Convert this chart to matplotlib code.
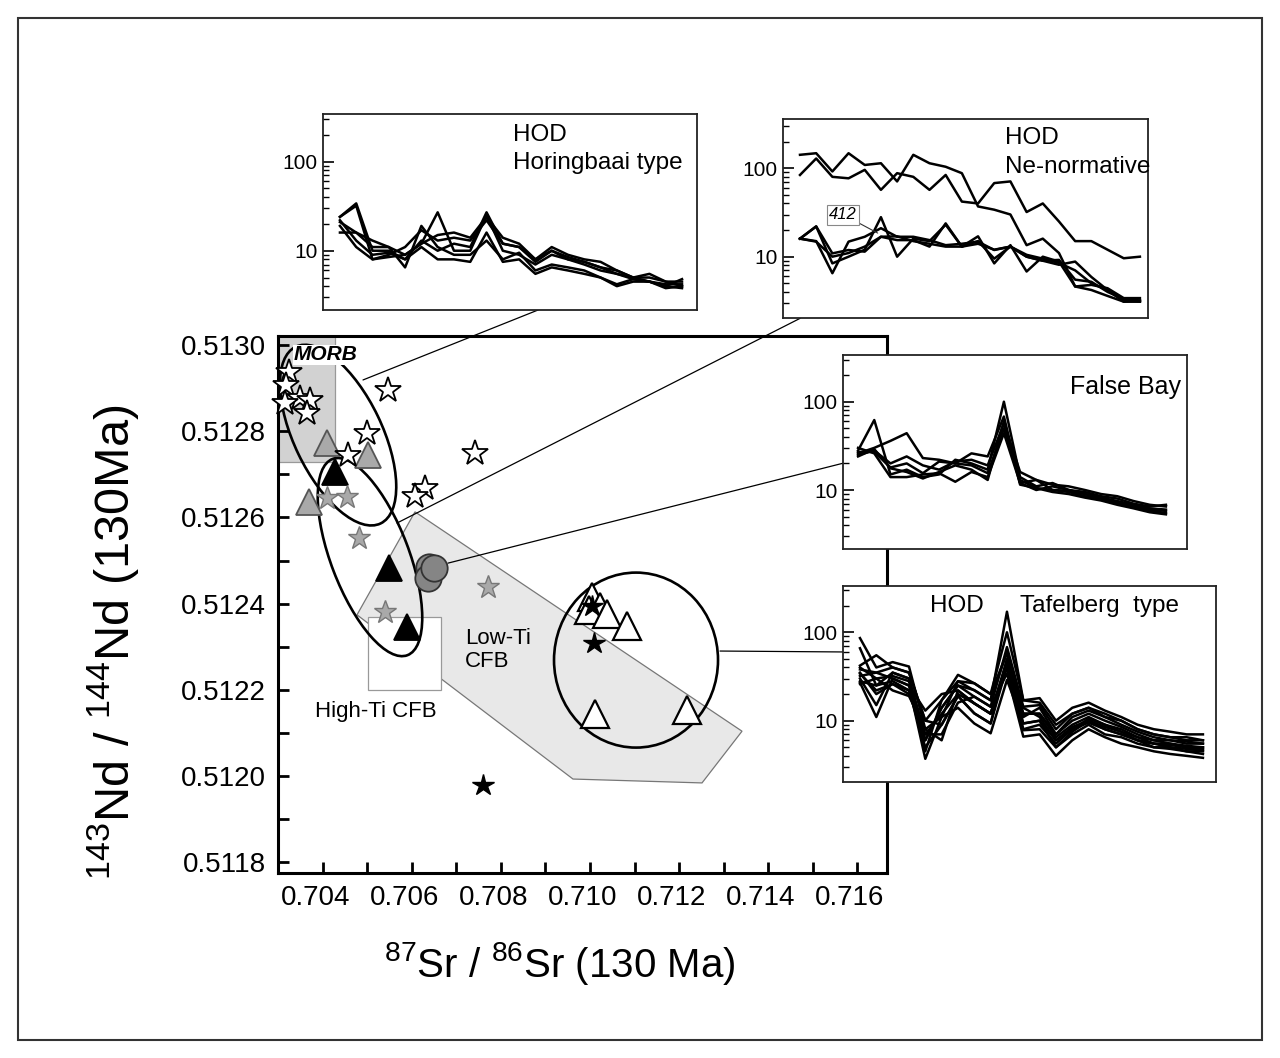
import matplotlib
matplotlib.use("Agg")
import numpy as np
import matplotlib.pyplot as plt
import matplotlib.transforms as mtransforms
from matplotlib.patches import Ellipse, Polygon, Rectangle, ConnectionPatch
from matplotlib.ticker import FixedLocator, FixedFormatter, NullFormatter, LogLocator

plt.rcParams['font.family'] = ['Liberation Sans', 'DejaVu Sans']
plt.rcParams['mathtext.default'] = 'regular'

# ---- Sr-Nd isotope data (130 Ma) ----
open_star_sr = [0.703236, 0.703169, 0.703483, 0.703708, 0.703146, 0.703640,
                0.705461, 0.704989, 0.704562, 0.707416, 0.706292, 0.706067]
open_star_nd = [0.512937, 0.512907, 0.512877, 0.512872, 0.512865, 0.512842,
                0.512896, 0.512796, 0.512745, 0.512749, 0.512668, 0.512650]

grey_star_sr = [0.704090, 0.704539, 0.704809, 0.707708, 0.705393]
grey_star_nd = [0.512645, 0.512647, 0.512552, 0.512439, 0.512381]

black_star_sr = [0.707596, 0.710045, 0.710090]
black_star_nd = [0.511979, 0.512394, 0.512309]

grey_tri_sr = [0.704090, 0.705011, 0.703685]
grey_tri_nd = [0.512773, 0.512745, 0.512636]

black_tri_sr = [0.704270, 0.705483, 0.705888]
black_tri_nd = [0.512705, 0.512483, 0.512346]

grey_circle_sr = [0.706382, 0.706360, 0.706494]
grey_circle_nd = [0.512485, 0.512459, 0.512483]

open_tri_sr = [0.710038, 0.710225, 0.709984, 0.710375, 0.710838, 0.710112, 0.712173]
open_tri_nd = [0.512416, 0.512393, 0.512385, 0.512377, 0.512348, 0.512145, 0.512153]

# fields
low_ti_sr = [0.706067, 0.713416, 0.712517, 0.709618, 0.704764]
low_ti_nd = [0.512613, 0.512104, 0.511984, 0.511993, 0.512374]
morb_sr = (0.70299, 0.70427)
morb_nd = (0.512729, 0.51310)
high_ti_sr = (0.705011, 0.706652)
high_ti_nd = (0.512200, 0.512369)

xtick_vals = [0.704 + 0.001 * i for i in range(13)]
xtick_labels = ['0.704', '', '0.706', '', '0.708', '', '0.710', '', '0.712', '', '0.714', '', '0.716']
ytick_vals = [0.5118 + 0.0001 * i for i in range(13)]
ytick_labels = ['0.5118', '', '0.5120', '', '0.5122', '', '0.5124', '', '0.5126', '', '0.5128', '', '0.5130']

# ---- normalised trace element patterns (spider diagrams) ----
horingbaai = [
    [24, 34, 10, 10, 8, 13, 10, 12, 11, 27, 12, 11, 7.5, 10, 8.5, 7.5, 6.5, 5.5, 4.8, 4.5, 4.2, 4.2],
    [21, 16, 11, 11, 9, 12, 27, 10, 10, 25, 10, 9, 7, 9, 8, 7, 6, 5.5, 5, 5.5, 4.5, 4.0],
    [24, 32, 8, 9, 11, 17, 13, 14, 13, 22, 12, 11, 8, 10, 8, 7.5, 6.5, 6, 5, 4.5, 4, 3.8],
    [16, 16, 13, 11, 6.5, 19, 11, 9, 9, 13, 8, 9.5, 6, 7, 6.5, 6, 5, 4, 4.5, 4.5, 3.8, 4.0],
    [19, 11, 8, 8.5, 9, 12, 15, 16, 14, 24, 14, 12, 8, 11, 9, 8, 7.5, 6, 5, 5, 4.5, 4.5],
    [22, 13, 9, 9.5, 8, 11, 8, 8, 7.5, 16, 7.5, 8, 5.5, 6.5, 6, 5.5, 5, 4.2, 4.8, 4.5, 4, 4.8],
]
ne_normative = [
    [142, 148, 92, 148, 109, 114, 71, 142, 114, 104, 88, 37, 34, 30, 13.5, 16, 11, 4.6, 4.2, 3.6, 3.1, 3.2],
    [84, 129, 80, 77, 96, 57, 88, 80, 57, 84, 42, 40, 68, 71, 32, 40, 25, 15, 15, 12, 9.6, 10],
    [16, 22, 8.4, 10, 12, 28, 10, 16, 15, 23, 13, 17, 8.4, 13.5, 6.8, 10, 8.8, 4.6, 4.8, 4.4, 3.4, 3.4],
    [16, 15, 6.5, 14.8, 16.8, 21, 16.8, 16.8, 15.4, 13.5, 14, 14.8, 11.9, 13, 10, 9, 8.1, 8.8, 5.9, 4.2, 3.1, 3.1],
    [16, 22, 10.9, 11.9, 11.4, 16.8, 15.4, 15.4, 13, 23.8, 13, 15, 9.5, 13, 10, 9, 9.2, 5.5, 5.2, 4.0, 3.3, 3.2],
    [16, 14.8, 10, 11, 13, 16.8, 17, 15, 14, 13, 13, 14, 12, 13, 10.5, 9.5, 8.5, 7, 5, 4.2, 3.2, 3.1],
]
false_bay = [
    [28, 62, 15, 17, 14, 15, 22, 20, 17, 100, 14, 11, 12, 10, 9.5, 8.5, 8, 7, 6.5, 6.8],
    [26, 30, 36, 44, 23, 22, 20, 26, 24, 68, 12, 13, 10, 9.8, 9, 8.2, 7.5, 6.8, 6.2, 6.0],
    [25, 28, 20, 24, 19, 17, 21, 22, 19, 57, 16, 13, 11.5, 11, 10, 9, 8.5, 7.5, 6.8, 6.5],
    [27, 27, 18, 20, 15.5, 21, 20, 19, 15.5, 50, 13, 10.5, 10, 9.5, 8.5, 8, 7, 6.5, 5.8, 5.5],
    [30, 26, 14, 14, 15, 15.5, 12.4, 16, 14, 44, 12, 10, 11, 10, 9, 8, 7.2, 6.8, 6, 5.8],
    [24, 29, 17.6, 16, 13.5, 16, 19, 17, 13, 60, 11.5, 10.5, 9.5, 9, 8.2, 7.6, 6.8, 6.2, 5.6, 5.3],
]
tafelberg = [
    [86, 40, 46, 41, 8, 11, 28, 22, 17, 171, 17, 18, 10, 14, 16, 13, 11, 9, 8, 7.5, 7, 7],
    [66, 25, 35, 30, 6, 14, 25, 18.7, 14.4, 68, 14.4, 15, 8, 12, 14, 11, 10, 8, 7, 6.5, 6.5, 6],
    [42, 55, 40, 35, 10, 17, 33, 26.5, 20, 58, 12, 12, 7, 10, 12, 10, 8.5, 7, 6, 6, 5.5, 5.5],
    [38, 35, 30, 25, 13, 20, 22, 15.7, 12, 48.6, 9.3, 10, 6, 8.5, 10, 8.5, 7.5, 6, 5.5, 5.5, 5, 5],
    [35, 20, 26, 22, 5, 9, 19, 12.1, 9.3, 40.8, 7.8, 8, 5, 7, 9, 7, 6.5, 5.5, 5, 5, 4.5, 4.5],
    [30, 15, 35, 30, 7, 7, 16, 18.7, 14.4, 34.3, 6.6, 7, 4, 6, 8, 6.5, 5.5, 5, 4.5, 4.2, 4, 3.8],
    [27, 11, 30, 25, 3.7, 11, 14, 9.3, 7.2, 28.9, 9.3, 10, 5, 7.5, 10, 8, 7, 6, 5.5, 5, 4.8, 4.6],
    [26, 30, 22, 19, 8, 6, 22, 15.7, 12, 45, 12, 12, 6.5, 9, 11, 9, 8, 6.5, 6, 5.5, 5.2, 5],
    [28, 25, 28, 22, 6, 14, 25, 22.2, 17, 60, 11, 14, 7, 11, 13, 11, 9, 7.5, 6.5, 6, 5.8, 5.5],
    [32, 35, 40, 35, 10, 9, 19, 12.1, 9.3, 50, 14, 11, 6, 8, 9.5, 8, 7, 6, 5, 4.8, 4.5, 4.2],
    [40, 30, 32, 28, 4.5, 17, 28, 26.5, 20, 100, 17, 16, 9, 12, 14, 12, 10, 8, 7, 6.5, 6, 6],
    [34, 22, 26, 20, 7, 12, 20, 15.7, 12, 40, 8, 9, 5.5, 8, 10.5, 9, 7.5, 6.5, 5.5, 5.3, 5, 4.8],
]

fig = plt.figure(figsize=(12.8, 10.58), dpi=100)

# outer frame
fig.add_artist(Rectangle((0.0141, 0.017), 0.9719, 0.966, transform=fig.transFigure,
                         fill=False, lw=1.5, ec='#333333'))

ax = fig.add_axes([0.21719, 0.17486, 0.47578, 0.50756])

ax.add_patch(Polygon(list(zip(low_ti_sr, low_ti_nd)), closed=True, fc='#e8e8e8',
                     ec='#777777', lw=0.9, zorder=1))
ax.add_patch(Rectangle((morb_sr[0], morb_nd[0]), morb_sr[1] - morb_sr[0], morb_nd[1] - morb_nd[0],
                       fc='#d2d2d2', ec='#999999', lw=0.9, zorder=1))
ax.add_patch(Rectangle((high_ti_sr[0], high_ti_nd[0]), high_ti_sr[1] - high_ti_sr[0],
                       high_ti_nd[1] - high_ti_nd[0], fc='white', ec='#999999', lw=0.9, zorder=1.5))


def ellipse_at(xy, w_in, h_in, angle):
    trans = fig.dpi_scale_trans + mtransforms.ScaledTranslation(xy[0], xy[1], ax.transData)
    ax.add_patch(Ellipse((0, 0), w_in, h_in, angle=angle, transform=trans,
                         fill=False, ec='black', lw=1.9, zorder=3))


ellipse_at((0.70434, 0.512791), 1.96, 0.88, -64.3)
ellipse_at((0.705056, 0.512508), 2.10, 0.78, -69.1)
ellipse_at((0.711034, 0.512269), 1.64, 1.75, 0)

mk = dict(ls='none', clip_on=False)
ax.plot(grey_tri_sr, grey_tri_nd, marker='^', ms=19, mfc='#a9a9a9', mec='#555555', mew=1.3, zorder=4, **mk)
ax.plot(black_tri_sr, black_tri_nd, marker='^', ms=19, mfc='black', mec='black', mew=1.3, zorder=4, **mk)
ax.plot(open_tri_sr, open_tri_nd, marker='^', ms=20, mfc='white', mec='black', mew=1.6, zorder=4, **mk)
ax.plot(grey_circle_sr, grey_circle_nd, marker='o', ms=19, mfc='#858585', mec='#333333', mew=1.3, zorder=4, **mk)
ax.plot(open_star_sr, open_star_nd, marker='*', ms=19, mfc='white', mec='black', mew=1.3, zorder=5, **mk)
ax.plot(grey_star_sr, grey_star_nd, marker='*', ms=17, mfc='#a9a9a9', mec='#777777', mew=1.0, zorder=5, **mk)
ax.plot(black_star_sr, black_star_nd, marker='*', ms=16, mfc='black', mec='black', mew=1.0, zorder=5, **mk)

ax.text(0.703348, 0.512977, 'MORB', fontsize=15, fontweight='bold', style='italic', va='center',
        ha='left', zorder=6, bbox=dict(fc='white', ec='none', pad=0.5))
ax.text(0.707191, 0.512292, 'Low-Ti\nCFB', fontsize=16, va='center', ha='left', zorder=6, linespacing=1.1)
ax.text(0.703820, 0.512150, 'High-Ti CFB', fontsize=16, va='center', ha='left', zorder=6)

ax.set_xlim(0.702989, 0.716674)
ax.set_ylim(0.511775, 0.513021)
ax.xaxis.set_major_locator(FixedLocator(xtick_vals))
ax.xaxis.set_major_formatter(FixedFormatter(xtick_labels))
ax.yaxis.set_major_locator(FixedLocator(ytick_vals))
ax.yaxis.set_major_formatter(FixedFormatter(ytick_labels))
ax.tick_params(axis='both', direction='in', length=8, width=2, labelsize=20)
ax.tick_params(axis='x', pad=9)
ax.tick_params(axis='y', pad=9)
for s in ax.spines.values():
    s.set_linewidth(2.2)
shift = mtransforms.ScaledTranslation(-0.07, 0, fig.dpi_scale_trans)
for lab in ax.get_xticklabels():
    lab.set_transform(lab.get_transform() + shift)

ax.set_xlabel('$^{87}$Sr / $^{86}$Sr (130 Ma)', fontsize=29)
ax.xaxis.set_label_coords(0.463, -0.125)
ax.set_ylabel('$^{143}$Nd / $^{144}$Nd (130Ma)', fontsize=35)
ax.yaxis.set_label_coords(-0.225, 0.43)


def spider(rect, patterns, xlim, ylim):
    ins = fig.add_axes(rect, zorder=5)
    ins.set_facecolor('white')
    for p in patterns:
        ins.plot(np.arange(len(p)), p, color='black', lw=1.8)
    ins.set_yscale('log')
    ins.set_xlim(*xlim)
    ins.set_ylim(*ylim)
    ins.set_xticks([])
    ins.yaxis.set_major_locator(FixedLocator([10, 100]))
    ins.yaxis.set_major_formatter(FixedFormatter(['10', '100']))
    ins.yaxis.set_minor_locator(LogLocator(base=10, subs=np.arange(2, 10)))
    ins.yaxis.set_minor_formatter(NullFormatter())
    ins.tick_params(axis='y', which='major', direction='in', length=8, width=1.2, labelsize=15, pad=4)
    ins.tick_params(axis='y', which='minor', direction='in', length=4.5, width=1.0)
    for s in ins.spines.values():
        s.set_linewidth(1.3)
        s.set_color('#222222')
    return ins


ins1 = spider([0.25234, 0.70699, 0.29219, 0.18526], horingbaai, (-1.04, 21.92), (2.16, 343))
ins1.text(0.508, 0.893, 'HOD', transform=ins1.transAxes, fontsize=17.5, va='center')
ins1.text(0.508, 0.750, 'Horingbaai type', transform=ins1.transAxes, fontsize=17.5, va='center')

ins2 = spider([0.61172, 0.69915, 0.28516, 0.18809], ne_normative, (-1.05, 21.5), (2.01, 358))
ins2.text(0.608, 0.906, 'HOD', transform=ins2.transAxes, fontsize=17.5, va='center')
ins2.text(0.608, 0.760, 'Ne-normative', transform=ins2.transAxes, fontsize=17.5, va='center')
ins2.annotate('412', xy=(4.8, 18.5), xytext=(2.65, 30), fontsize=12, style='italic',
              ha='center', va='center',
              bbox=dict(boxstyle='square,pad=0.15', fc='white', ec='#888888', lw=0.8),
              arrowprops=dict(arrowstyle='-', color='#333333', lw=0.8, shrinkA=0, shrinkB=0))

ins3 = spider([0.65859, 0.48081, 0.26875, 0.18365], false_bay, (-0.93, 20.3), (2.13, 338))
ins3.text(0.66, 0.835, 'False Bay', transform=ins3.transAxes, fontsize=18, va='center')

ins4 = spider([0.65859, 0.26115, 0.29141, 0.18497], tafelberg, (-1.04, 21.8), (2.04, 334))
ins4.text(0.233, 0.898, 'HOD', transform=ins4.transAxes, fontsize=17.5, va='center')
ins4.text(0.475, 0.898, 'Tafelberg  type', transform=ins4.transAxes, fontsize=17.5, va='center')

# connector lines from groups to their patterns
links = [((0.704899, 0.512919), ins1, (0.575, 0.0)),
         ((0.705663, 0.512587), ins2, (0.047, 0.0)),
         ((0.706809, 0.512494), ins3, (0.0, 0.443)),
         ((0.712921, 0.512290), ins4, (0.0, 0.663))]
for xy_a, ins, xy_b in links:
    fig.add_artist(ConnectionPatch(xyA=xy_a, coordsA=ax.transData, xyB=xy_b, coordsB=ins.transAxes,
                                   color='black', lw=0.9, zorder=4))

fig.savefig('out.png', dpi=100)
